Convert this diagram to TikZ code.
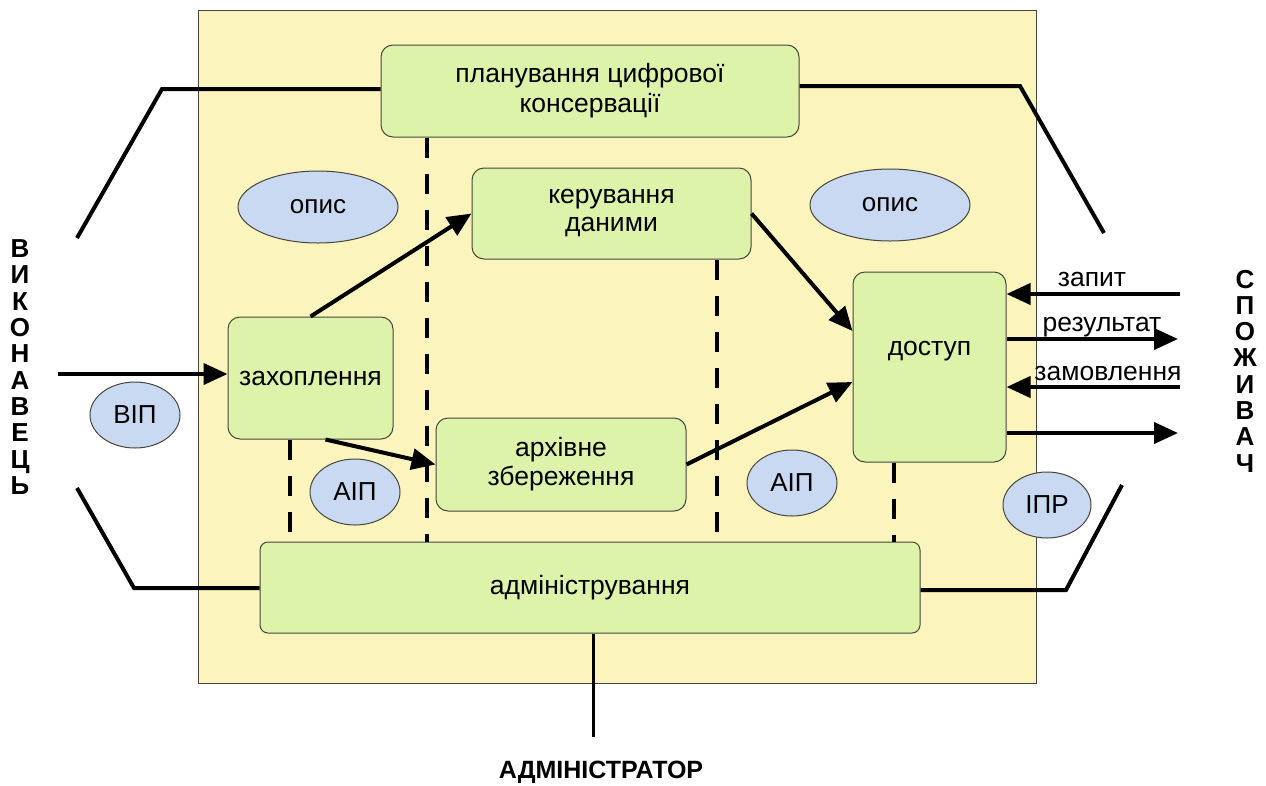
\documentclass[tikz,border=0pt]{standalone}
\usepackage{fontspec}
\setmainfont{Liberation Sans}
\usetikzlibrary{arrows.meta,shapes.geometric}
\definecolor{bgyellow}{RGB}{252,244,189}
\definecolor{boxgreen}{RGB}{222,243,170}
\definecolor{ovalblue}{RGB}{201,217,242}
\definecolor{boxline}{RGB}{70,70,60}
\begin{document}
\begin{tikzpicture}[x=1pt,y=-1pt,
  box/.style={draw=boxline, line width=1pt, fill=boxgreen, rounded corners=12pt,
    align=center, inner sep=0pt, font=\fontsize{26.5}{29}\selectfont},
  oval/.style={ellipse, draw=boxline, line width=1pt, fill=ovalblue, inner sep=0pt,
    font=\fontsize{26}{29}\selectfont},
  conn/.style={line width=4pt},
  arr/.style={line width=4pt, -{Triangle[length=24pt,width=21pt]}},
  dsh/.style={line width=4pt, dash pattern=on 20pt off 16pt},
  lbl/.style={font=\fontsize{26.5}{29}\selectfont, inner sep=0pt},
  vert/.style={align=center, inner sep=0pt, font=\bfseries\fontsize{26}{26.3}\selectfont}]
\useasboundingbox (0,0) rectangle (1266,785);
\fill[white] (0,0) rectangle (1266,785);
\draw[draw=boxline, line width=1pt, fill=bgyellow] (198,10) rectangle (1036,683);

% boxes
\node[box, minimum width=418pt, minimum height=92pt, font=\fontsize{26.5}{30}\selectfont] (plan) at (590,91) {планування цифрової\\консервації};
\node[box, minimum width=279pt, minimum height=91pt, font=\fontsize{26.5}{28}\selectfont] (manage) at (611.5,213.5) {керування\\даними};
\node[box, minimum width=165pt, minimum height=122pt] (capture) at (310.5,378) {захоплення};
\node[box, minimum width=250pt, minimum height=93pt] (archive) at (561,464.5) {архівне\\збереження};
\node[box, minimum width=153pt, minimum height=190pt, text height=19pt, text depth=42pt] (access) at (929.5,367) {доступ};
\node[box, rounded corners=8pt, minimum width=660pt, minimum height=91pt] (admin) at (590,587.5) {адміністрування};

% ovals
\node[oval, minimum width=160pt, minimum height=72pt] (descl) at (318,207) {опис};
\node[oval, minimum width=160pt, minimum height=72pt] (descr) at (890,205) {опис};
\node[oval, minimum width=90pt, minimum height=66pt] (sip) at (135,415) {ВІП};
\node[oval, minimum width=90pt, minimum height=66pt] (aipl) at (355,492) {АІП};
\node[oval, minimum width=90pt, minimum height=66pt] (aipr) at (792,483) {АІП};
\node[oval, minimum width=88pt, minimum height=66pt] (dip) at (1047,505) {ІПР};

% side labels
\node[vert] (producer) at (20,367) {В\\И\\К\\О\\Н\\А\\В\\Е\\Ц\\Ь};
\node[vert] (consumer) at (1245,371) {С\\П\\О\\Ж\\И\\В\\А\\Ч};
\node[lbl, font=\bfseries\fontsize{25}{30}\selectfont] (adminlbl) at (601,772) {АДМІНІСТРАТОР};

% coordinates
\coordinate (tl1) at (77,238);
\coordinate (tl2) at (162,89);
\coordinate (tr1) at (1020,86);
\coordinate (tr2) at (1104,233);
\coordinate (bl1) at (77,488);
\coordinate (bl2) at (134,588);
\coordinate (br1) at (1066,590);
\coordinate (br2) at (1122,485);
\coordinate (adm) at (593,737);
\coordinate (inp) at (58,374);
\coordinate (q1) at (1180,294);
\coordinate (r1) at (1178,339);
\coordinate (o1) at (1180,387);
\coordinate (f1) at (1178,433);
\coordinate (d1) at (427,0);
\coordinate (d2) at (290,0);
\coordinate (d3) at (717,0);
\coordinate (d4) at (894,0);

% outer lines
\draw[conn] (tl1) -- (tl2) -- (tl2 -| plan.west);
\draw[conn] (plan.east |- tr1) -- (tr1) -- (tr2);
\draw[conn] (bl1) -- (bl2) -- (bl2 -| admin.west);
\draw[conn] (admin.east |- br1) -- (br1) -- (br2);
\draw[line width=3pt] (admin.south -| adm) -- (adm);

% dashed
\draw[dsh] (plan.south -| d1) -- (admin.north -| d1);
\draw[dsh] (capture.south -| d2) -- (admin.north -| d2);
\draw[dsh] (manage.south -| d3) -- (admin.north -| d3);
\draw[dsh] (access.south -| d4) -- (admin.north -| d4);

% arrows
\draw[arr] (inp) -- (inp -| capture.west);
\draw[arr] (capture.north) -- (manage.west);
\draw[arr] ([xshift=15pt]capture.south) -- (archive.west);
\draw[arr] (manage.east) -- ([yshift=36pt]access.west);
\draw[arr] (archive.east) -- ([yshift=-15pt]access.west);
\draw[arr] (q1) -- (q1 -| access.east);
\draw[arr] (access.east |- r1) -- (r1);
\draw[arr] (o1) -- (o1 -| access.east);
\draw[arr] (access.east |- f1) -- (f1);

% arrow labels
\node[lbl] (lq) at (1092,279) {запит};
\node[lbl] (lr) at (1102,327) {результат};
\node[lbl] (lo) at (1108,373) {замовлення};
\end{tikzpicture}
\end{document}
